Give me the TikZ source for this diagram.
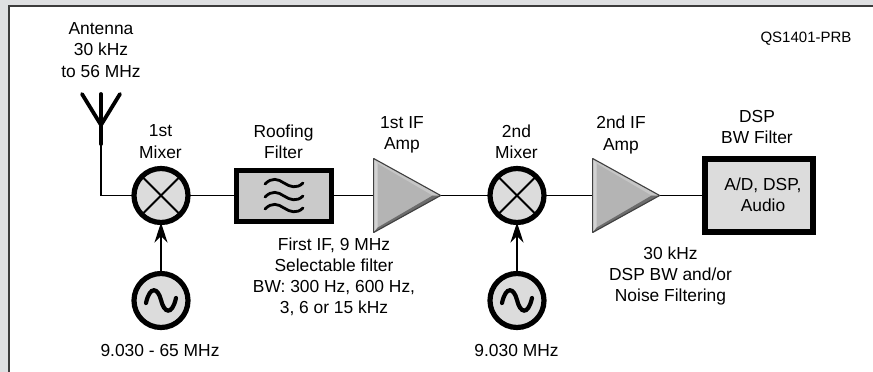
\documentclass[tikz,border=0pt]{standalone}
\usepackage{fontspec}
\setmainfont{Liberation Sans}
\usetikzlibrary{arrows.meta,shapes.geometric}
\definecolor{pagegray}{HTML}{DFE0E2}
\definecolor{framegray}{HTML}{3C3C3C}
\definecolor{partgray}{HTML}{DCDCDC}
\definecolor{roofgray}{HTML}{CACACA}
\definecolor{ampgray}{HTML}{B4B4B4}
\definecolor{amplight}{HTML}{D2D2D2}
\definecolor{ampmid}{HTML}{C6C6C6}
\definecolor{ampdark}{HTML}{6C6C6C}
\tikzset{
  lbl/.style={anchor=center,inner sep=0pt,align=center,font=\fontsize{17.4}{21.2}\selectfont},
  wire/.style={line width=1.6pt},
  mixer/.style={circle,draw,fill=partgray,line width=5.2pt,minimum size=54pt,inner sep=0pt,outer sep=0pt},
  filterbox/.style={draw,fill=roofgray,line width=5pt,minimum width=95pt,minimum height=51pt,inner sep=0pt,outer sep=0pt},
  dspbox/.style={draw,fill=partgray,line width=6.4pt,minimum width=108pt,minimum height=73pt,inner sep=0pt,outer sep=0pt},
  amp/.style={isosceles triangle,isosceles triangle apex angle=58,isosceles triangle stretches,fill=ampgray,minimum width=74pt,minimum height=67pt,inner sep=0pt,outer sep=0pt},
  ampedge/.style={line width=1.1pt,draw=black!75,line join=round},
  antline/.style={line width=3.8pt,line cap=round},
  crossline/.style={line width=1.8pt},
  lotip/.style={line width=2.2pt,-{Stealth[length=20pt,width=13pt]}},
  squiggle/.style={line width=2.8pt,line cap=round},
  sinewave/.style={line width=4.2pt,line cap=round}
}
\begin{document}
\begin{tikzpicture}[x=1pt,y=-1pt,line width=.5pt]
\path[use as bounding box,fill=pagegray] (0,0) rectangle (873,372);
\fill[white] (9,6) rectangle (873,372);
\draw[framegray,line width=1.5pt] (9,372) -- (9,6) -- (873,6);
\node[lbl] (anttxt) at (101,50) {Antenna\\30 kHz\\to 56 MHz};
\node[lbl,font=\fontsize{15}{18}\selectfont] (qslbl) at (806,39) {QS1401-PRB};
\coordinate (antfork) at (101,125);
\coordinate (antend) at (101,195.5);
\coordinate (antl) at (82,94);
\coordinate (antm) at (101,94);
\coordinate (antr) at (120,94);
\coordinate (antstem) at (101,144);
\node[mixer] (mix1) at (161,195.5) {};
\node[filterbox] (roof) at (284,195.5) {};
\node[amp] (amp1) at (395.5,195.5) {};
\node[mixer] (mix2) at (517,195.5) {};
\node[amp] (amp2) at (614.5,195.5) {};
\node[dspbox] (dsp) at (759,195.5) {};
\node[mixer] (osc1) at (161,300.5) {};
\node[mixer] (osc2) at (517,300.5) {};
\draw[antline] (antl) -- (antfork) -- (antr);
\draw[antline] (antm) -- (antstem);
\draw[wire] (antfork) -- (antend) -- (mix1);
\draw[wire] (mix1) -- (roof);
\draw[wire] (roof) -- (amp1.west);
\draw[wire] (amp1.apex) -- (mix2);
\draw[wire] (mix2) -- (amp2.west);
\draw[wire] (amp2.apex) -- (dsp);
\draw[lotip] (osc1) -- (mix1);
\draw[lotip] (osc2) -- (mix2);
\draw[crossline] (mix1.north west) -- (mix1.south east);
\draw[crossline] (mix1.north east) -- (mix1.south west);
\draw[crossline] (mix2.north west) -- (mix2.south east);
\draw[crossline] (mix2.north east) -- (mix2.south west);
\fill[amplight] (amp1.left corner) -- (amp1.right corner) -- ([shift={(4,-5)}]amp1.right corner) -- ([shift={(4,5)}]amp1.left corner) -- cycle;
\fill[ampmid] (amp1.left corner) -- (amp1.apex) -- ([shift={(-8,0)}]amp1.apex) -- ([shift={(4,5)}]amp1.left corner) -- cycle;
\fill[ampdark] (amp1.right corner) -- (amp1.apex) -- ([shift={(-8,0)}]amp1.apex) -- ([shift={(4,-5)}]amp1.right corner) -- cycle;
\draw[ampedge] (amp1.left corner) -- (amp1.apex) -- (amp1.right corner) -- cycle;
\fill[amplight] (amp2.left corner) -- (amp2.right corner) -- ([shift={(4,-5)}]amp2.right corner) -- ([shift={(4,5)}]amp2.left corner) -- cycle;
\fill[ampmid] (amp2.left corner) -- (amp2.apex) -- ([shift={(-8,0)}]amp2.apex) -- ([shift={(4,5)}]amp2.left corner) -- cycle;
\fill[ampdark] (amp2.right corner) -- (amp2.apex) -- ([shift={(-8,0)}]amp2.apex) -- ([shift={(4,-5)}]amp2.right corner) -- cycle;
\draw[ampedge] (amp2.left corner) -- (amp2.apex) -- (amp2.right corner) -- cycle;
\draw[sinewave] (146,303) .. controls (150,285) and (158,288) .. (161,300) .. controls (164,313) and (172,316) .. (176,298);
\draw[sinewave] (502,303) .. controls (506,285) and (514,288) .. (517,300) .. controls (520,313) and (528,316) .. (532,298);
\draw[squiggle] (265,184) .. controls (272,177) and (278,179) .. (284,183) .. controls (290,187) and (297,189) .. (303,183);
\draw[squiggle] (265,197) .. controls (272,190) and (278,192) .. (284,196) .. controls (290,200) and (297,202) .. (303,196);
\draw[squiggle] (265,209) .. controls (272,202) and (278,204) .. (284,208) .. controls (290,212) and (297,214) .. (303,208);
\node[lbl] (mix1txt) at (160.5,141.5) {1st\\Mixer};
\node[lbl] (rooftxt) at (283.5,141.5) {Roofing\\Filter};
\node[lbl] (amp1txt) at (402,135) {1st IF\\Amp};
\node[lbl] (mix2txt) at (516.5,141.5) {2nd\\Mixer};
\node[lbl] (amp2txt) at (621,135) {2nd IF\\Amp};
\node[lbl] (dsptxt) at (757,127) {DSP\\BW Filter};
\node[lbl] (audtxt) at (763,194.5) {A/D, DSP,\\Audio};
\node[lbl] (iftxt) at (334,277) {First IF, 9 MHz\\Selectable filter\\BW: 300 Hz, 600 Hz,\\3, 6 or 15 kHz};
\node[lbl] (bwtxt) at (670.5,276) {30 kHz\\DSP BW and/or\\Noise Filtering};
\node[lbl] (lo1txt) at (160,351) {9.030 - 65 MHz};
\node[lbl] (lo2txt) at (516.5,351) {9.030 MHz};
\end{tikzpicture}
\end{document}
